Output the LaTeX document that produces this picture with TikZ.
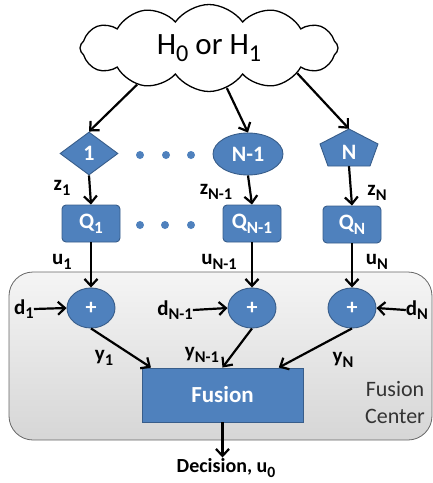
\documentclass[tikz,border=0pt]{standalone}
\usepackage{fontspec}
\setmainfont{Carlito}
\usetikzlibrary{shapes.geometric,shapes.symbols,arrows.meta}
\definecolor{boxblue}{HTML}{4F81BD}
\definecolor{boxedge}{HTML}{385D8A}
% lowered, reduced subscript in text
\newcommand\lowsub[1]{\raisebox{-0.45ex}{\scalebox{0.78}{#1}}}

\begin{document}
\begin{tikzpicture}[x=1pt,y=-1pt,
  blk/.style={fill=boxblue, draw=boxedge, line width=0.9pt, text=white,
    font=\fontsize{22}{24}\selectfont\bfseries, inner sep=0pt},
  qbox/.style={blk, rounded corners=4pt, minimum width=58pt, minimum height=37pt},
  sumnode/.style={blk, ellipse, minimum width=48pt, minimum height=40pt},
  lbl/.style={font=\fontsize{21}{22}\selectfont\bfseries, inner sep=0pt},
  arr/.style={line width=2.2pt, -{Straight Barb[length=7pt,width=13pt]}},
  dot/.style={circle, fill=boxblue, inner sep=0pt, minimum size=8pt},
]
\useasboundingbox (0,0) rectangle (433,483);

% fusion-centre panel
\node[draw=gray!80!black, line width=0.8pt, rounded corners=24pt, top color=gray!8,
  bottom color=gray!32, minimum width=423pt, minimum height=168pt, inner sep=0pt]
  (panel) at (220.5,356) {};
\node[align=center, font=\fontsize{22}{27}\selectfont, text=black!80] (fc) at (395,403) {Fusion\\Center};

% hypothesis cloud
\node[cloud, cloud puffs=12, cloud puff arc=110, aspect=3, draw, line width=1.3pt,
  fill=white, minimum width=258pt, minimum height=87pt, inner sep=0pt]
  (src) at (209,48) {\fontsize{31}{33}\selectfont H\lowsub{0} or H\lowsub{1}};

% sensors
\node[blk, diamond, minimum width=58pt, minimum height=43pt] (s1) at (89,153.5) {1};
\node[blk, ellipse, minimum width=70pt, minimum height=42pt] (s2) at (248,154) {N-1};
\filldraw[fill=boxblue, draw=boxedge, line width=0.9pt]
  (349,129) -- (378,144) -- (370,166) -- (328,166) -- (320,144) -- cycle;
\node[minimum width=59pt, minimum height=37pt, inner sep=0pt] (s3) at (349,147.5) {};
\node[blk, fill=none, draw=none] (s3t) at (349,152) {N};

\node[dot] (da1) at (140,155) {};
\node[dot] (da2) at (166,155) {};
\node[dot] (da3) at (191,155) {};

% quantizers
\node[qbox] (q1) at (91,223.5) {Q\lowsub{1}};
\node[qbox] (q2) at (252,223.5) {Q\lowsub{N-1}};
\node[qbox] (q3) at (352,224.5) {Q\lowsub{N}};

\node[dot] (db1) at (140,225) {};
\node[dot] (db2) at (165,225) {};
\node[dot] (db3) at (191,225) {};

% adders
\node[sumnode] (p1) at (91,308) {+};
\node[sumnode] (p2) at (252,308) {+};
\node[sumnode] (p3) at (352,308) {+};

% fusion block
\node[blk, minimum width=161pt, minimum height=54pt, font=\fontsize{23}{24}\selectfont\bfseries]
  (fus) at (222.5,395) {Fusion};

% labels
\node[lbl] (z1) at (62,188) {z\lowsub{1}};
\node[lbl] (z2) at (216,192) {z\lowsub{N-1}};
\node[lbl] (z3) at (377,193) {z\lowsub{N}};
\node[lbl] (u1) at (62,262) {u\lowsub{1}};
\node[lbl] (u2) at (219,262) {u\lowsub{N-1}};
\node[lbl] (u3) at (377,262) {u\lowsub{N}};
\node[lbl] (d1) at (24,309) {d\lowsub{1}};
\node[lbl] (d2) at (175,310) {d\lowsub{N-1}};
\node[lbl] (d3) at (417,310) {d\lowsub{N}};
\node[lbl] (y1) at (104,358) {y\lowsub{1}};
\node[lbl] (y2) at (202,355) {y\lowsub{N-1}};
\node[lbl] (y3) at (343,360) {y\lowsub{N}};
\node[font=\fontsize{20}{22}\selectfont\bfseries, inner sep=1pt] (dec) at (226,468) {Decision, u\lowsub{0}};

% connectors
\draw[arr] (src.207) -- (s1.north);
\draw[arr] (src.294) -- (s2.north);
\draw[arr] (src.344) -- (s3.north);
\draw[arr] (s1.south) -- (q1.north);
\draw[arr] (s2.south) -- (q2.north);
\draw[arr] (s3.south) -- (q3.north);
\draw[arr] (q1.south) -- (p1.north);
\draw[arr] (q2.south) -- (p2.north);
\draw[arr] (q3.south) -- (p3.north);
\draw[arr] (d1.east) -- (p1.west);
\draw[arr] (d2.east) -- (p2.west);
\draw[arr] (d3.west) -- (p3.east);
\draw[arr] (p1.south) -- (fus.159);
\draw[arr] (p2.south) -- (fus.north);
\draw[arr] (p3.south) -- (fus.26.4);
\draw[arr] (fus.south) -- (fus.south |- dec.north);
\end{tikzpicture}
\end{document}
